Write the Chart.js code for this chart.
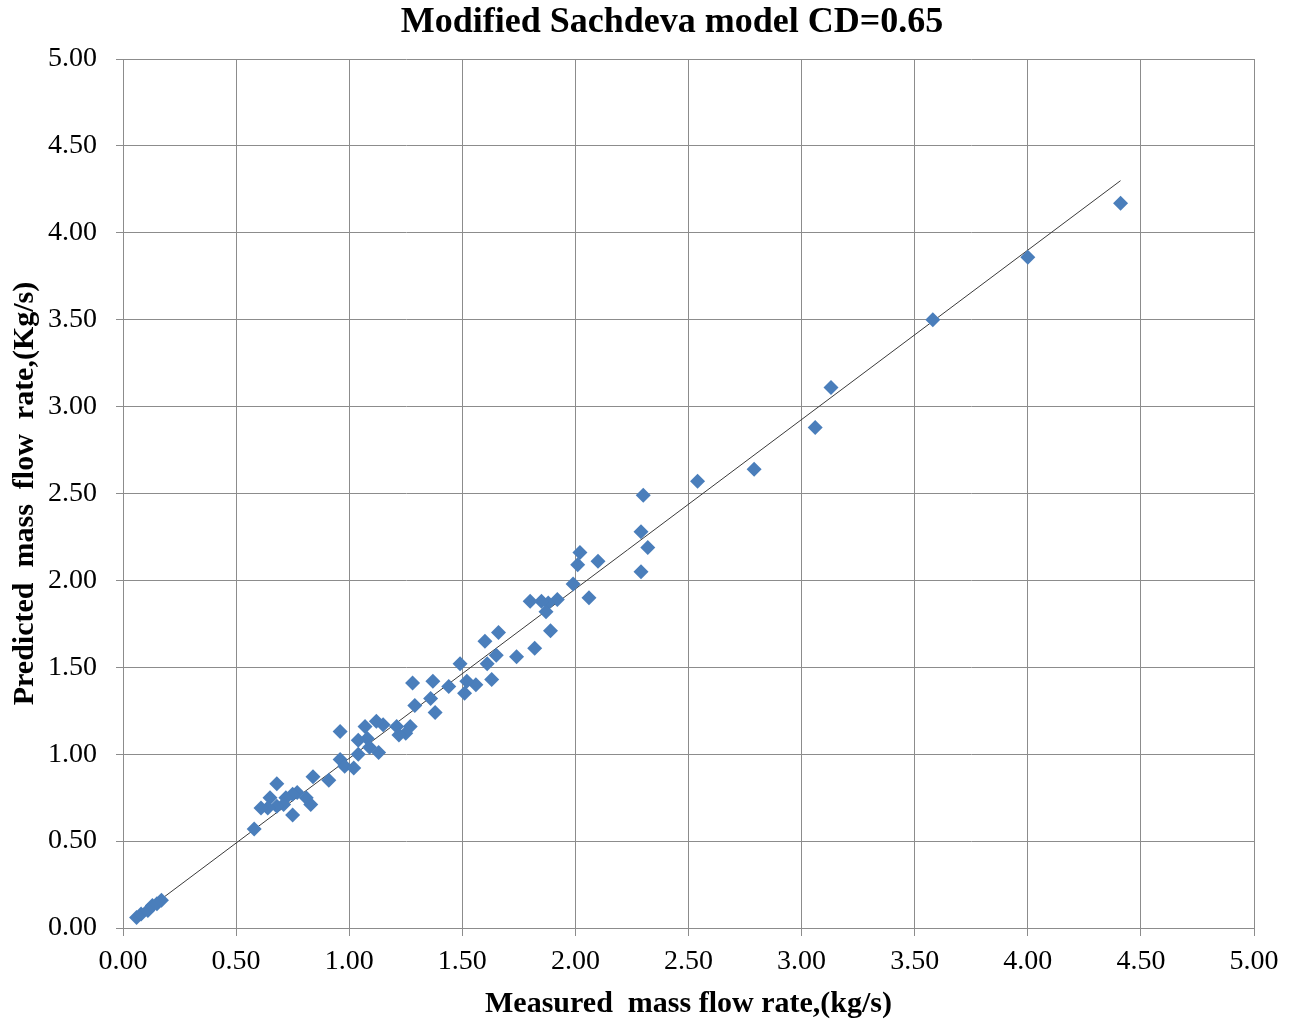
<!DOCTYPE html>
<html>
<head>
<meta charset="utf-8">
<script src="https://cdn.jsdelivr.net/npm/chart.js@4/dist/chart.umd.min.js"></script>
<style>
  html, body { margin: 0; padding: 0; background: #ffffff; }
  #wrap { width: 1294px; height: 1025px; }
</style>
</head>
<body>
<div id="wrap"><canvas id="c" width="1294" height="1025"></canvas></div>
<script>
// Measured vs predicted mass flow rate (kg/s)
const measured = [
  4.41, 4.00, 3.58, 3.13, 3.06, 2.79, 2.54, 2.30, 2.29, 2.32, 2.29, 2.10,
  2.02, 2.01, 1.99, 2.06, 1.92, 1.88, 1.85, 1.80, 1.87, 1.89, 1.82, 1.74,
  1.66, 1.60, 1.65, 1.61, 1.63, 1.56, 1.49, 1.52, 1.51, 1.44, 1.37, 1.36,
  1.38, 1.28, 1.29, 1.27, 1.25, 1.21, 1.22, 1.15, 1.12, 1.07, 1.08, 1.04,
  1.09, 1.13, 1.04, 0.96, 0.96, 0.98, 1.02, 0.91, 0.84, 0.83, 0.81, 0.77,
  0.75, 0.72, 0.68, 0.75, 0.71, 0.68, 0.65, 0.64, 0.61, 0.58,
  0.06, 0.08, 0.11, 0.13, 0.15, 0.17
];
const predicted = [
  4.17, 3.86, 3.50, 3.11, 2.88, 2.64, 2.57, 2.49, 2.28, 2.19, 2.05, 2.11,
  2.16, 2.09, 1.98, 1.90, 1.89, 1.87, 1.88, 1.88, 1.82, 1.71, 1.61, 1.56,
  1.70, 1.65, 1.57, 1.52, 1.43, 1.40, 1.52, 1.42, 1.35, 1.39, 1.42, 1.32,
  1.24, 1.41, 1.28, 1.16, 1.12, 1.16, 1.11, 1.17, 1.19, 1.16, 1.09, 1.08,
  1.04, 1.01, 1.00, 1.13, 0.97, 0.93, 0.92, 0.85, 0.87, 0.71, 0.75, 0.78,
  0.77, 0.75, 0.83, 0.65, 0.71, 0.70, 0.75, 0.69, 0.69, 0.57,
  0.06, 0.08, 0.10, 0.13, 0.14, 0.16
];
// Linear trend line end points
const trendX = [0.05, 4.41];
const trendY = [0.05, 4.30];
// Axis tick values
const tickValues = [0, 0.5, 1, 1.5, 2, 2.5, 3, 3.5, 4, 4.5, 5];
const chartTitle = 'Modified Sachdeva model CD=0.65';

const points = measured.map((x, i) => ({ x: x, y: predicted[i] }));
const trend = trendX.map((x, i) => ({ x: x, y: trendY[i] }));

const serif = "'Liberation Serif', 'DejaVu Serif', serif";
const grid = '#8c8c8c';

// Heading centred a little right of the canvas middle, above the plot
const headingPlugin = {
  id: 'heading',
  afterDraw(chart) {
    const ctx = chart.ctx;
    ctx.save();
    ctx.font = "bold 36px " + serif;
    ctx.fillStyle = '#000000';
    ctx.textAlign = 'center';
    ctx.textBaseline = 'middle';
    ctx.fillText(chartTitle, 672, 23);
    ctx.restore();
  }
};

new Chart(document.getElementById('c'), {
  type: 'scatter',
  data: {
    datasets: [
      {
        type: 'line',
        data: trend,
        borderColor: '#3a3a3a',
        borderWidth: 1,
        pointRadius: 0,
        fill: false,
        order: 2
      },
      {
        data: points,
        pointStyle: 'rectRot',
        pointRadius: 7.5,
        pointBackgroundColor: '#4a7ebb',
        pointBorderColor: '#4a7ebb',
        pointBorderWidth: 0,
        order: 1
      }
    ]
  },
  plugins: [headingPlugin],
  options: {
    responsive: false,
    animation: false,
    layout: { padding: { left: 0, right: 40, top: 59, bottom: 0 } },
    plugins: {
      legend: { display: false },
      tooltip: { enabled: false },
      title: { display: false }
    },
    scales: {
      x: {
        type: 'linear',
        min: 0,
        max: 5,
        afterBuildTicks: s => { s.ticks = tickValues.map(v => ({ value: v })); },
        afterFit: s => { s.height = 97; },
        ticks: {
          color: '#000000',
          font: { family: serif, size: 28 },
          padding: 9,
          maxRotation: 0,
          callback: v => Number(v).toFixed(2)
        },
        grid: { color: grid, lineWidth: 1, tickLength: 8, drawTicks: true },
        border: { color: grid },
        title: {
          display: true,
          text: 'Measured  mass flow rate,(kg/s)',
          color: '#000000',
          font: { family: serif, size: 30, weight: 'bold' },
          padding: { top: 0, bottom: 3 }
        }
      },
      y: {
        type: 'linear',
        min: 0,
        max: 5,
        afterBuildTicks: s => { s.ticks = tickValues.map(v => ({ value: v })); },
        afterFit: s => { s.width = 123; },
        ticks: {
          color: '#000000',
          font: { family: serif, size: 28 },
          padding: 19,
          callback: v => Number(v).toFixed(2)
        },
        grid: { color: grid, lineWidth: 1, tickLength: 7, drawTicks: true },
        border: { color: grid },
        title: {
          display: true,
          text: 'Predicted  mass  flow  rate,(Kg/s)',
          color: '#000000',
          font: { family: serif, size: 30, weight: 'bold' },
          padding: { top: 7, bottom: 0 }
        }
      }
    }
  }
});
</script>
</body>
</html>
